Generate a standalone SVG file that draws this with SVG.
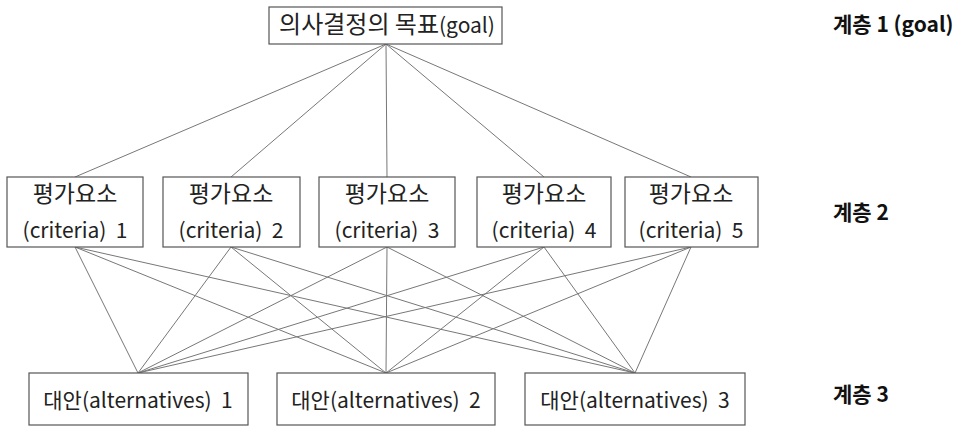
<svg xmlns="http://www.w3.org/2000/svg" width="965" height="428" viewBox="0 0 965 428">
<style>
.box{fill:#fff;stroke:#555;stroke-width:1.2}
.t{font-family:"Noto Sans CJK KR","Noto Sans",sans-serif;font-size:21px;fill:#222;text-anchor:middle;white-space:pre}
.k{font-size:23px}
.lv{font-family:"Noto Sans CJK KR","Noto Sans",sans-serif;font-size:21px;font-weight:bold;fill:#111;white-space:pre}
.c line{stroke:#777;stroke-width:1}
</style>
<rect width="965" height="428" fill="#fff"/>
<g class="c" id="connectors">
<line x1="386" y1="44" x2="75" y2="177"/>
<line x1="386" y1="44" x2="231" y2="177"/>
<line x1="386" y1="44" x2="387" y2="177"/>
<line x1="386" y1="44" x2="544" y2="177"/>
<line x1="386" y1="44" x2="691" y2="177"/>
<line x1="75" y1="247" x2="138" y2="373"/>
<line x1="75" y1="247" x2="386" y2="373"/>
<line x1="75" y1="247" x2="635" y2="373"/>
<line x1="231" y1="247" x2="138" y2="373"/>
<line x1="231" y1="247" x2="386" y2="373"/>
<line x1="231" y1="247" x2="635" y2="373"/>
<line x1="387" y1="247" x2="138" y2="373"/>
<line x1="387" y1="247" x2="386" y2="373"/>
<line x1="387" y1="247" x2="635" y2="373"/>
<line x1="544" y1="247" x2="138" y2="373"/>
<line x1="544" y1="247" x2="386" y2="373"/>
<line x1="544" y1="247" x2="635" y2="373"/>
<line x1="691" y1="247" x2="138" y2="373"/>
<line x1="691" y1="247" x2="386" y2="373"/>
<line x1="691" y1="247" x2="635" y2="373"/>
</g>
<g id="goal"><rect class="box" x="269" y="7" width="233" height="37"/><text class="t" x="387" y="33" font-size="23"><tspan font-size="24">의사결정의 목표</tspan>(goal)</text></g>
<g id="c1"><rect class="box" x="7" y="177" width="136" height="70"/><text class="t k" x="75" y="202">평가요소</text><text class="t" x="75" y="238" xml:space="preserve">(criteria)  1</text></g>
<g id="c2"><rect class="box" x="163" y="177" width="137" height="70"/><text class="t k" x="231" y="202">평가요소</text><text class="t" x="231" y="238" xml:space="preserve">(criteria)  2</text></g>
<g id="c3"><rect class="box" x="319" y="177" width="136" height="70"/><text class="t k" x="387" y="202">평가요소</text><text class="t" x="387" y="238" xml:space="preserve">(criteria)  3</text></g>
<g id="c4"><rect class="box" x="477" y="177" width="134" height="70"/><text class="t k" x="544" y="202">평가요소</text><text class="t" x="544" y="238" xml:space="preserve">(criteria)  4</text></g>
<g id="c5"><rect class="box" x="625" y="177" width="133" height="70"/><text class="t k" x="691" y="202">평가요소</text><text class="t" x="691" y="238" xml:space="preserve">(criteria)  5</text></g>
<g id="a1"><rect class="box" x="29" y="373" width="219" height="52"/><text class="t" x="138" y="408" xml:space="preserve">대안(alternatives)  1</text></g>
<g id="a2"><rect class="box" x="277" y="373" width="218" height="52"/><text class="t" x="386" y="408" xml:space="preserve">대안(alternatives)  2</text></g>
<g id="a3"><rect class="box" x="525" y="373" width="220" height="52"/><text class="t" x="635" y="408" xml:space="preserve">대안(alternatives)  3</text></g>
<g id="levels">
<text class="lv" x="833" y="32">계층 1 (goal)</text>
<text class="lv" x="833" y="220">계층 2</text>
<text class="lv" x="833" y="402">계층 3</text>
</g>
</svg>
